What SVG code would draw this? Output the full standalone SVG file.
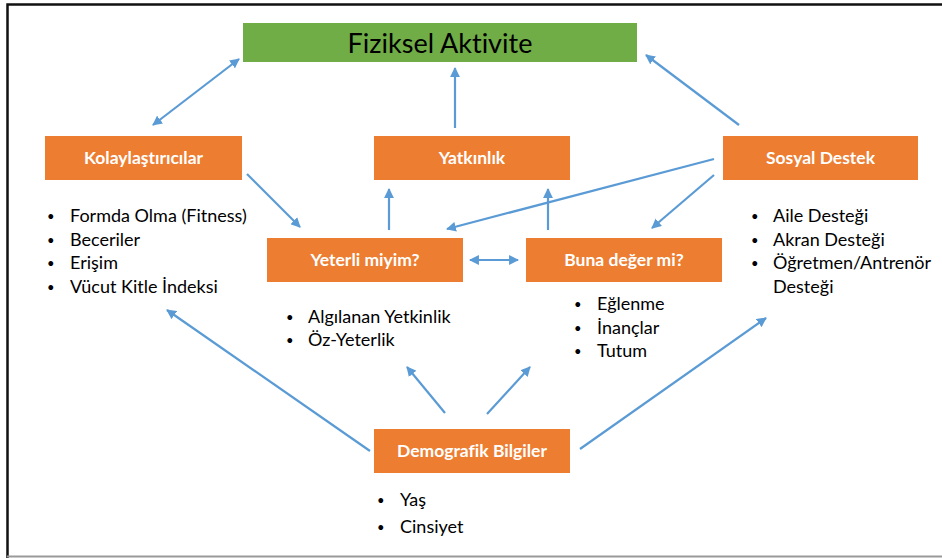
<svg xmlns="http://www.w3.org/2000/svg" width="942" height="558" viewBox="0 0 942 558">
<defs>
<marker id="ah" viewBox="0 0 10 10" refX="9" refY="5" markerWidth="4.5" markerHeight="4.5" orient="auto-start-reverse">
<path d="M0,0 L10,5 L0,10 z" fill="#5B9BD5"/>
</marker>
<style>
text{font-variant-ligatures:none}
.box{fill:#ED7D31}
.lbl{font-family:Lato,"Open Sans","Liberation Sans",sans-serif;font-weight:bold;font-size:17.5px;fill:#FFFFFF;text-anchor:middle}
.li{font-family:Lato,"Open Sans","Liberation Sans",sans-serif;font-size:18px;fill:#000}
.b{font-size:13px}
.c{stroke:#5B9BD5;stroke-width:2.2;fill:none;marker-end:url(#ah)}
.d{marker-start:url(#ah)}
</style>
</defs>
<rect x="0" y="0" width="942" height="558" fill="#fff"/>
<path d="M7.5,558 V4.5 H942" stroke="#111" stroke-width="2.5" fill="none"/>
<line x1="7" y1="556.5" x2="942" y2="556.5" stroke="#999" stroke-width="2"/>

<g id="fiziksel-aktivite">
<rect x="243" y="23" width="394" height="39" fill="#70AD47"/>
<text x="440" y="53" font-family="Lato,'Open Sans','Liberation Sans',sans-serif" font-size="27" text-anchor="middle" fill="#000">Fiziksel Aktivite</text>
</g>

<g id="kolaylastiricilar">
<rect class="box" x="45" y="136" width="197" height="44"/>
<text class="lbl" x="143.5" y="164">Kolaylaştırıcılar</text>
<text class="li"><tspan class="b" x="47" y="221">•</tspan><tspan x="70" y="222">Formda Olma (Fitness)</tspan><tspan class="b" x="47" y="245">•</tspan><tspan x="70" y="246">Beceriler</tspan><tspan class="b" x="47" y="268">•</tspan><tspan x="70" y="269">Erişim</tspan><tspan class="b" x="47" y="292">•</tspan><tspan x="70" y="293">Vücut Kitle İndeksi</tspan></text>
</g>

<g id="yatkinlik">
<rect class="box" x="374" y="136" width="196" height="44"/>
<text class="lbl" x="472" y="164">Yatkınlık</text>
</g>

<g id="sosyal-destek">
<rect class="box" x="723" y="136" width="195" height="44"/>
<text class="lbl" x="820.5" y="164">Sosyal Destek</text>
<text class="li"><tspan class="b" x="751" y="221">•</tspan><tspan x="773" y="222">Aile Desteği</tspan><tspan class="b" x="751" y="245">•</tspan><tspan x="773" y="246">Akran Desteği</tspan><tspan class="b" x="751" y="268">•</tspan><tspan x="773" y="269">Öğretmen/Antrenör</tspan><tspan x="773" y="293">Desteği</tspan></text>
</g>

<g id="yeterli-miyim">
<rect class="box" x="267" y="238" width="196" height="44"/>
<text class="lbl" x="365" y="266">Yeterli miyim?</text>
<text class="li"><tspan class="b" x="286" y="322">•</tspan><tspan x="308" y="323">Algılanan Yetkinlik</tspan><tspan class="b" x="286" y="345">•</tspan><tspan x="308" y="346">Öz-Yeterlik</tspan></text>
</g>

<g id="buna-deger-mi">
<rect class="box" x="526" y="238" width="196" height="44"/>
<text class="lbl" x="624" y="266">Buna değer mi?</text>
<text class="li"><tspan class="b" x="574" y="309">•</tspan><tspan x="597" y="310">Eğlenme</tspan><tspan class="b" x="574" y="333">•</tspan><tspan x="597" y="334">İnançlar</tspan><tspan class="b" x="574" y="356">•</tspan><tspan x="597" y="357">Tutum</tspan></text>
</g>

<g id="demografik-bilgiler">
<rect class="box" x="374" y="429" width="196" height="44"/>
<text class="lbl" x="472" y="457">Demografik Bilgiler</text>
<text class="li"><tspan class="b" x="377" y="505">•</tspan><tspan x="400" y="506">Yaş</tspan><tspan class="b" x="377" y="532">•</tspan><tspan x="400" y="533">Cinsiyet</tspan></text>
</g>

<g id="connectors">
<line class="c d" x1="153" y1="125" x2="239" y2="59"/>
<line class="c" x1="455" y1="128" x2="455" y2="68"/>
<line class="c" x1="739" y1="125" x2="646" y2="55"/>
<line class="c" x1="247" y1="174" x2="300" y2="227"/>
<line class="c" x1="389" y1="230" x2="389" y2="189"/>
<line class="c" x1="548" y1="230" x2="548" y2="189"/>
<line class="c" x1="714" y1="159" x2="447" y2="229"/>
<line class="c" x1="714" y1="175" x2="652" y2="228"/>
<line class="c d" x1="470" y1="260" x2="518" y2="260"/>
<line class="c" x1="370" y1="451" x2="167" y2="310"/>
<line class="c" x1="445" y1="413" x2="407" y2="367"/>
<line class="c" x1="487" y1="414" x2="530" y2="367"/>
<line class="c" x1="580" y1="449" x2="766" y2="318"/>
</g>
</svg>
